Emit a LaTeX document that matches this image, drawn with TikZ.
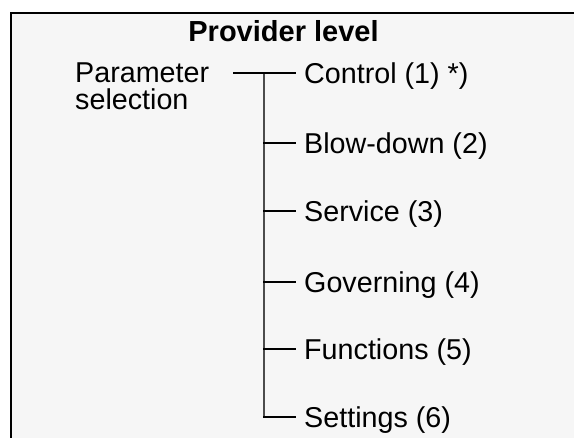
\documentclass[tikz,border=0pt]{standalone}
\usepackage{fontspec}
\setmainfont{Liberation Sans}
\definecolor{panelbg}{RGB}{246,246,246}
\begin{document}
\begin{tikzpicture}[x=1pt,y=-1pt,
  txt/.style={font=\fontsize{28.7}{27}\selectfont, inner sep=0pt},
  item/.style={txt, anchor=west, inner xsep=8pt, inner ysep=0pt, text height=20.5pt, text depth=0pt},
  branch/.style={line width=2pt, black},
  trunk/.style={line width=1.6pt, black!70}]
  \clip (0,0) rectangle (574,438);
  \fill[white] (0,0) rectangle (574,438);
  \draw[line width=2pt, fill=panelbg] (11,13) rectangle (620,480);
  \node[txt, font=\fontsize{29}{27}\selectfont\bfseries, anchor=base] (title) at (283.5,42) {Provider level};
  \node[txt, align=left, anchor=base west] (param) at (75,110) {Parameter\\selection};
  \node[item] (c1) at (296,73) {Control (1) *)};
  \node[item] (c2) at (296,143) {Blow-down (2)};
  \node[item] (c3) at (296,211) {Service (3)};
  \node[item] (c4) at (296,282) {Governing (4)};
  \node[item] (c5) at (296,349) {Functions (5)};
  \node[item] (c6) at (296,417) {Settings (6)};
  \coordinate (pstart) at (233,73);
  \coordinate (junction) at (264,73);
  \draw[trunk] (junction) -- (junction |- c6.west);
  \draw[branch] (pstart) -- (c1.west);
  \foreach \n in {c2,c3,c4,c5,c6}
    \draw[branch] ([xshift=-0.8pt]junction |- \n.west) -- (\n.west);
\end{tikzpicture}
\end{document}
